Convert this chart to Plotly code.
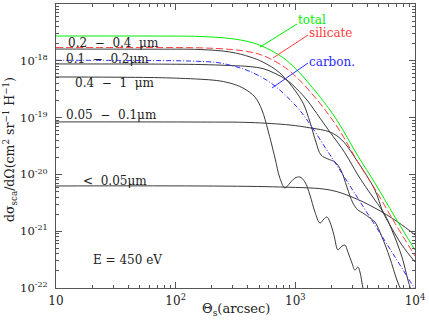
import plotly.graph_objects as go

# ---- data (theta in arcsec, dsigma/dOmega) ----
theta_total = [10, 61, 160, 284, 418, 536, 787, 1030, 1514, 1945, 2360, 3334, 4624, 6792, 10000]
total = [2.73e-18, 2.73e-18, 2.68e-18, 2.47e-18, 2.14e-18, 1.79e-18, 1.14e-18, 6.9e-19, 2.71e-19,
         1.36e-19, 7.4e-20, 2.11e-20, 7.06e-21, 1.78e-21, 4.67e-22]

theta_sil = [10, 61, 160, 284, 418, 536, 787, 1030, 1514, 1945, 2360, 3334, 4624, 6792, 10000]
silicate = [1.71e-18, 1.71e-18, 1.69e-18, 1.59e-18, 1.43e-18, 1.24e-18, 8.1e-19, 5.08e-19, 2.08e-19,
            1.05e-19, 5.8e-20, 1.65e-20, 5.54e-21, 1.39e-21, 3.66e-22]

theta_carb = [10, 61, 132, 221, 284, 418, 650, 1030, 1324, 1766, 2270, 2972, 4036, 6412, 9419, 10000]
carbon = [1.02e-18, 1.01e-18, 9.9e-19, 9.33e-19, 8.4e-19, 6.49e-19, 3.83e-19, 1.54e-19, 7.7e-20,
          3.03e-20, 1.35e-20, 5.54e-21, 2.01e-21, 4.3e-22, 1.17e-22, 9.6e-23]

theta_a4 = [10, 61, 109, 160, 221, 284, 365, 459, 526, 590, 676, 743, 818, 902, 992, 1091, 1203,
            1324, 1458, 1607, 1734, 1837, 1945, 2101, 2270, 2404, 2594, 2750, 2972, 3148, 3334, 3467,
            3673, 3811]
size_04_1 = [5.19e-19, 5.08e-19, 4.92e-19, 4.74e-19, 4.5e-19, 4.06e-19, 3.32e-19, 2.31e-19, 1.36e-19,
             6.05e-20, 1.95e-20, 8.6e-21, 5.77e-21, 7.06e-21, 8.6e-21, 9.0e-21, 7.35e-21, 4.34e-21,
             2.18e-21, 1.39e-21, 1.64e-21, 1.78e-21, 1.45e-21, 8.6e-22, 4.67e-22, 5.27e-22, 5.7e-22,
             4.3e-22, 2.75e-22, 2.07e-22, 2.34e-22, 1.91e-22, 1.0e-22, 7.5e-23]

theta_a3 = [10, 61, 160, 284, 418, 536, 743, 1030, 1180, 1324, 1486, 1637, 1871, 2143, 2404, 2698,
            3028, 3334, 3673, 4200, 4624, 5297, 6166, 7063, 7780]
size_02_04 = [1.61e-18, 1.60e-18, 1.58e-18, 1.43e-18, 1.17e-18, 9.5e-19, 6.1e-19, 2.71e-19, 1.67e-19,
              8.4e-20, 3.72e-20, 2.20e-20, 1.87e-20, 1.65e-20, 1.19e-20, 6.0e-21, 3.13e-21, 2.36e-21,
              2.09e-21, 1.71e-21, 1.45e-21, 7.9e-22, 3.38e-22, 1.38e-22, 8.5e-23]

theta_a2 = [10, 61, 160, 284, 418, 536, 676, 851, 1030, 1250, 1607, 1945, 2594, 3334, 4036, 4624,
            5610, 6412, 7780, 8730, 9247]
size_01_02 = [8.8e-19, 8.75e-19, 8.6e-19, 8.26e-19, 7.9e-19, 7.3e-19, 6.0e-19, 4.59e-19, 3.18e-19,
              2.04e-19, 9.8e-20, 5.57e-20, 2.40e-20, 9.75e-21, 5.31e-21, 3.54e-21, 1.93e-21, 1.05e-21,
              3.52e-22, 1.38e-22, 9.2e-23]

theta_a1 = [10, 160, 418, 902, 1324, 1945, 2449, 3334, 4624, 5395, 6166, 7780, 10000]
size_005_01 = [8.4e-20, 8.35e-20, 8.2e-20, 7.4e-20, 6.6e-20, 5.57e-20, 4.03e-20, 1.65e-20, 5.31e-21,
               2.18e-21, 1.29e-21, 5.7e-22, 2.87e-22]

theta_a0 = [10, 743, 1945, 2972, 4624, 7194, 10000]
size_lt005 = [6.25e-21, 6.0e-21, 5.31e-21, 4.0e-21, 2.56e-21, 1.45e-21, 8.6e-22]

x_tickvals = [10, 100, 1000, 10000]
x_ticktext = ["10", "10<sup>2</sup>", "10<sup>3</sup>", "10<sup>4</sup>"]
y_tickvals = [1e-22, 1e-21, 1e-20, 1e-19, 1e-18, 1e-17]
y_ticktext = ["10<sup>-22</sup>", "10<sup>-21</sup>", "10<sup>-20</sup>",
              "10<sup>-19</sup>", "10<sup>-18</sup>", "10<sup>-17</sup>"]

FONT = "DejaVu Serif"
BLACK = "#3a3a3a"
GREEN = "#00ee00"
RED = "#ff3b3b"
BLUE = "#2b2bff"

fig = go.Figure()

def add(x, y, color, dash="solid", width=1.0):
    fig.add_trace(go.Scatter(x=x, y=y, mode="lines",
                             line=dict(color=color, width=width, dash=dash, shape="spline", smoothing=1.0),
                             showlegend=False, hoverinfo="skip"))

add(theta_a0, size_lt005, BLACK)
add(theta_a1, size_005_01, BLACK)
add(theta_a2, size_01_02, BLACK)
add(theta_a3, size_02_04, BLACK)
add(theta_a4, size_04_1, BLACK)
add(theta_carb, carbon, BLUE, dash="5px,2px,1px,2px")
add(theta_sil, silicate, RED, dash="7px,3px")
add(theta_total, total, GREEN)

minor_x = [m * 10 ** e for e in range(1, 4) for m in range(2, 10)]
minor_y = [m * 10.0 ** e for e in range(-22, -17) for m in range(2, 10)]

axis_common = dict(type="log", showgrid=False, zeroline=False, showline=True, linecolor="#555",
                   linewidth=1, mirror="allticks", ticks="inside", ticklen=6, tickcolor="#555",
                   tickwidth=1, tickmode="array", automargin=False)

fig.update_xaxes(range=[1, 4], tickvals=x_tickvals, ticktext=x_ticktext,
                 minor=dict(tickmode="array", tickvals=minor_x, ticks="inside", ticklen=3,
                            tickcolor="#555", showgrid=False),
                 ticklabelstandoff=2, tickfont=dict(family=FONT, size=12, color="#222"),
                 **axis_common)
fig.update_yaxes(range=[-22, -17], tickvals=y_tickvals, ticktext=y_ticktext,
                 minor=dict(tickmode="array", tickvals=minor_y, ticks="inside", ticklen=3,
                            tickcolor="#555", showgrid=False),
                 ticklabelstandoff=5, tickfont=dict(family=FONT, size=11.5, color="#222"),
                 **axis_common)

def px_to_paper(px, py):
    return (px - 56) / 359.0, (288 - py) / 284.0

# axis titles
xt = px_to_paper(236, 310)
fig.add_annotation(x=xt[0], y=xt[1], xref="paper", yref="paper", showarrow=False,
                   text="\u0398<sub>s</sub>(arcsec)", xanchor="center", yanchor="middle",
                   font=dict(family=FONT, size=13, color="#222"))
yt = px_to_paper(10, 150)
fig.add_annotation(x=yt[0], y=yt[1], xref="paper", yref="paper", showarrow=False, textangle=-90,
                   text="d\u03c3<sub>sca</sub>/d\u03a9(cm<sup>2</sup> sr<sup>\u22121</sup> H<sup>\u22121</sup>)",
                   xanchor="center", yanchor="middle", borderpad=0,
                   font=dict(family=FONT, size=12.5, color="#222"))

labels = [
    ("0.2\u00a0\u00a0\u2212\u00a0\u00a00.4\u00a0\u00a0\u03bcm", 67, 43, "#222"),
    ("0.1\u00a0\u00a0\u2212\u00a0\u00a00.2\u03bcm", 65, 59, "#222"),
    ("0.4\u00a0\u00a0\u2212\u00a0\u00a01\u00a0\u00a0\u03bcm", 74, 83, "#222"),
    ("0.05\u00a0\u00a0\u2212\u00a0\u00a00.1\u03bcm", 65, 115, "#222"),
    ("<\u00a0\u00a00.05\u03bcm", 82, 181, "#222"),
    ("E\u00a0=\u00a0450\u00a0eV", 92, 260, "#222"),
    ("total", 297, 20, GREEN),
    ("silicate", 308, 33, RED),
    ("carbon.", 308, 62, BLUE),
]
for text, px, py, col in labels:
    xp, yp = px_to_paper(px, py)
    fig.add_annotation(x=xp, y=yp, xref="paper", yref="paper", text=text, showarrow=False,
                       xanchor="left", yanchor="middle", borderpad=0,
                       font=dict(family=FONT, size=12, color=col))

leaders = [((260, 47), (297, 24), GREEN), ((273, 58), (308, 35), RED), ((272, 88), (308, 63), BLUE)]
for (x0, y0), (x1, y1), col in leaders:
    a = px_to_paper(x0, y0)
    b = px_to_paper(x1, y1)
    fig.add_shape(type="line", xref="paper", yref="paper", x0=a[0], y0=a[1], x1=b[0], y1=b[1],
                  line=dict(color=col, width=1))

fig.update_layout(width=429, height=321, margin=dict(l=56, r=14, t=4, b=33),
                  paper_bgcolor="white", plot_bgcolor="white",
                  font=dict(family=FONT, size=12, color="#222"))

fig.write_html("out.html", config={"displayModeBar": False, "staticPlot": True},
               post_script="document.body.style.margin='0';document.body.style.padding='0';")
